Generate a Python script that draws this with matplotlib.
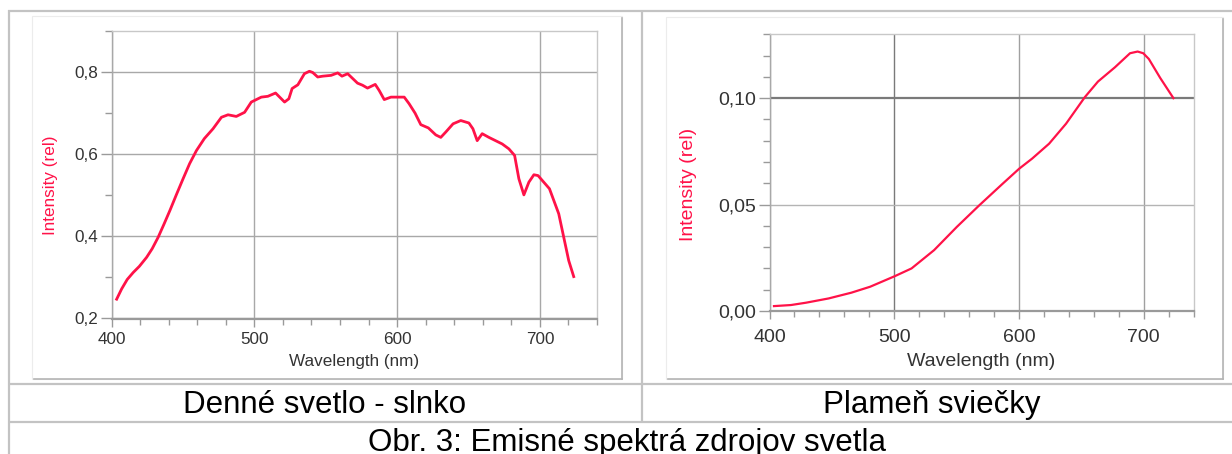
import matplotlib
matplotlib.use("Agg")
import matplotlib.pyplot as plt
from matplotlib.ticker import MultipleLocator, FuncFormatter, FixedLocator
from matplotlib.patches import Rectangle

# ---------------- data ----------------
sun_wavelength = [403.6, 407.1, 411.0, 415.2, 419.5, 424.6, 428.5, 432.7, 436.8, 440.9, 445.5,
                  450.1, 454.7, 459.5, 465.0, 471.1, 477.0, 481.6, 487.4, 493.2, 497.9,
                  504.9, 509.5, 514.9, 521.2, 524.2, 526.5, 530.5, 535.1, 538.6, 540.9,
                  544.4, 547.9, 553.8, 558.4, 561.4, 565.4, 572.3, 575.8, 579.3, 584.7,
                  587.5, 591.0, 595.7, 605.0, 608.4, 612.6, 616.6, 621.9, 627.1, 630.6,
                  634.1, 639.2, 644.6, 650.3, 653.1, 656.1, 659.6, 664.3, 673.6, 678.3,
                  682.3, 685.3, 688.8, 692.3, 695.8, 698.7, 702.7, 706.7, 713.2, 716.7,
                  720.2, 723.7]
sun_intensity = [0.247, 0.272, 0.295, 0.312, 0.327, 0.349, 0.370, 0.398, 0.430, 0.463, 0.502,
                 0.540, 0.577, 0.609, 0.638, 0.662, 0.690, 0.696, 0.692, 0.702, 0.727,
                 0.739, 0.741, 0.749, 0.727, 0.735, 0.760, 0.769, 0.796, 0.802, 0.799,
                 0.788, 0.790, 0.792, 0.798, 0.790, 0.796, 0.773, 0.768, 0.761, 0.770,
                 0.755, 0.733, 0.739, 0.739, 0.723, 0.700, 0.672, 0.664, 0.647, 0.641,
                 0.654, 0.674, 0.682, 0.676, 0.662, 0.633, 0.650, 0.641, 0.625, 0.613,
                 0.597, 0.540, 0.501, 0.532, 0.550, 0.548, 0.532, 0.516, 0.455, 0.398,
                 0.341, 0.302]

candle_wavelength = [403.6, 417.2, 429.3, 447.4, 465.6, 480.7, 500.6, 513.9, 532.0, 550.2,
                     568.3, 586.4, 600.3, 610.6, 624.2, 637.8, 652.9, 663.4, 677.0, 689.1,
                     695.2, 699.7, 704.2, 713.3, 723.9]
candle_intensity = [0.0023, 0.0028, 0.0039, 0.0059, 0.0086, 0.0114, 0.0164, 0.0200, 0.0286,
                    0.0395, 0.0497, 0.0595, 0.0669, 0.0716, 0.0786, 0.0880, 0.1005, 0.1078,
                    0.1145, 0.1211, 0.1219, 0.1211, 0.1184, 0.1095, 0.1000]

x_major = [400, 500, 600, 700]
sun_y_major = [0.2, 0.4, 0.6, 0.8]
candle_y_major = [0.00, 0.05, 0.10]

caption_left = "Denné svetlo - slnko"
caption_right = "Plameň sviečky"
caption_bottom = "Obr. 3: Emisné spektrá zdrojov svetla"
x_label = "Wavelength (nm)"
y_label = "Intensity (rel)"

# ---------------- figure ----------------
W, H = 1232, 454
plt.rcParams['font.family'] = ['Liberation Sans', 'DejaVu Sans']
fig = plt.figure(figsize=(W / 100, H / 100), dpi=100)
fig.patch.set_facecolor('white')

RED = '#ff1248'
TXT = '#333333'
TICK = '#9a9a9a'

# background overlay in pixel coordinates
bg = fig.add_axes([0, 0, 1, 1], zorder=0)
bg.set_xlim(0, W)
bg.set_ylim(H, 0)
bg.axis('off')

tab = dict(color='#c3c3c3', lw=1.6, solid_capstyle='butt')
bg.plot([8, W], [11, 11], **tab)
bg.plot([9, 9], [10, H], **tab)
bg.plot([641.5, 641.5], [10, 421.5], **tab)
bg.plot([9, W], [384, 384], **tab)
bg.plot([9, W], [421.5, 421.5], **tab)

# chart panels with light border and soft shadow
for (x0, y0, x1, y1) in [(31.5, 15.5, 622, 378.5), (665.5, 16.5, 1222.5, 379)]:
    bg.add_patch(Rectangle((x0, y0), x1 - x0, y1 - y0, facecolor='white',
                           edgecolor='#ececec', lw=0.8))
    bg.plot([x1, x1], [y0 + 2, y1], color='#b4b4b4', lw=1.2)
    bg.plot([x0 + 2, x1], [y1, y1], color='#b4b4b4', lw=1.2)

bg.text(325, 413, caption_left, fontsize=22.5, ha='center', va='baseline', color='black')
bg.text(932, 413, caption_right, fontsize=22.5, ha='center', va='baseline', color='black')
bg.text(627, 451, caption_bottom, fontsize=22.5, ha='center', va='baseline', color='black')


def px_axes(x0, y0, x1, y1):
    return fig.add_axes([x0 / W, 1 - y1 / H, (x1 - x0) / W, (y1 - y0) / H], zorder=2)


def style(ax, fs, ylab_xy, xlab_y):
    for s in ['top', 'right']:
        ax.spines[s].set_color('#c8c8c8')
        ax.spines[s].set_linewidth(1.0)
    ax.spines['left'].set_color('#a8a8a8')
    ax.spines['left'].set_linewidth(1.0)
    ax.spines['bottom'].set_color('#9a9a9a')
    ax.spines['bottom'].set_linewidth(1.6)
    ax.xaxis.set_major_locator(FixedLocator(x_major))
    ax.xaxis.set_minor_locator(MultipleLocator(20))
    ax.tick_params(axis='x', which='major', direction='out', length=6, width=1,
                   color=TICK, labelsize=fs, labelcolor=TXT, pad=4)
    ax.tick_params(axis='x', which='minor', direction='out', length=4, width=1, color=TICK)
    ax.tick_params(axis='y', which='major', direction='out', length=8, width=1,
                   color=TICK, labelsize=fs, labelcolor=TXT, pad=1.5)
    ax.tick_params(axis='y', which='minor', direction='out', length=5, width=1, color=TICK)
    ax.set_xlabel(x_label, fontsize=fs, color=TXT)
    ax.xaxis.set_label_coords(0.5, xlab_y)
    ax.xaxis.label.set_va('center')
    ax.set_ylabel(y_label, fontsize=fs, color=RED)
    ax.yaxis.set_label_coords(*ylab_xy)
    ax.yaxis.label.set_va('center')
    ax.yaxis.label.set_ha('center')


# ---------- left chart ----------
ax1 = px_axes(111.5, 31, 597, 318.5)
ax1.set_xlim(400, 740)
ax1.set_ylim(0.2, 0.9)
ax1.yaxis.set_major_locator(FixedLocator(sun_y_major))
ax1.yaxis.set_minor_locator(MultipleLocator(0.1))
ax1.yaxis.set_major_formatter(FuncFormatter(lambda v, p: f"{v:.1f}".replace('.', ',')))
for xv in x_major:
    ax1.axvline(xv, color='#a8a8a8', lw=1.0, zorder=1)
for yv in sun_y_major:
    ax1.axhline(yv, color='#a8a8a8', lw=1.0, zorder=1)
ax1.plot(sun_wavelength, sun_intensity, color=RED, lw=2.0, zorder=3, solid_joinstyle='round')
style(ax1, 12.3, (-0.125, 0.464), -0.151)

# ---------- right chart ----------
ax2 = px_axes(769.5, 34.3, 1193.5, 311)
ax2.set_xlim(400, 740)
ax2.set_ylim(0.0, 0.13)
ax2.yaxis.set_major_locator(FixedLocator(candle_y_major))
ax2.yaxis.set_minor_locator(MultipleLocator(0.01))
ax2.yaxis.set_major_formatter(FuncFormatter(lambda v, p: f"{v:.2f}".replace('.', ',')))
grid_col = {400: '#a8a8a8', 500: '#7a7a7a', 600: '#a0a0a0', 700: '#a0a0a0'}
for xv in x_major:
    ax2.axvline(xv, color=grid_col[xv], lw=1.0, zorder=1)
ax2.axhline(0.05, color='#b4b4b4', lw=1.0, zorder=1)
ax2.axhline(0.10, color='#7a7a7a', lw=1.6, zorder=1)
ax2.plot(candle_wavelength, candle_intensity, color=RED, lw=1.6, zorder=3)
style(ax2, 14, (-0.192, 0.459), -0.181)
ax2.tick_params(axis='x', which='major', pad=7)

fig.savefig('out.png', dpi=100, facecolor='white')
